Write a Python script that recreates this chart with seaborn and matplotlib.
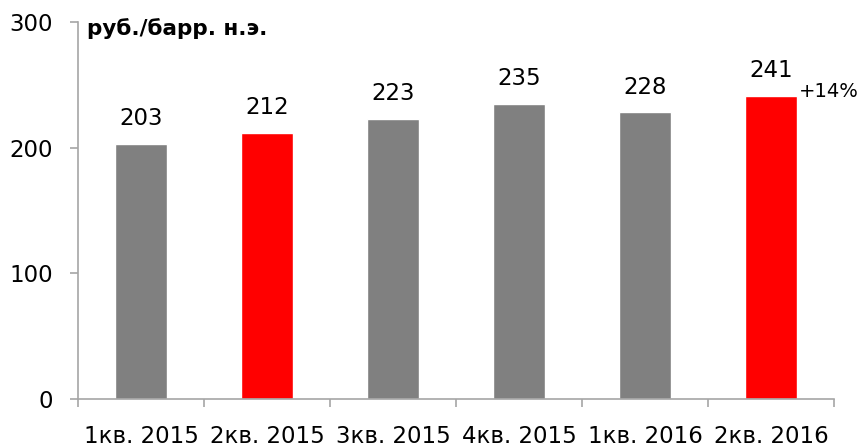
import matplotlib
matplotlib.use("Agg")
import matplotlib.pyplot as plt
import seaborn as sns
import pandas as pd
from matplotlib.ticker import FixedLocator

categories = ["1кв. 2015", "2кв. 2015", "3кв. 2015", "4кв. 2015", "1кв. 2016", "2кв. 2016"]
values = [203, 212, 223, 235, 228, 241]
bar_colors = ["#808080", "#FF0000", "#808080", "#808080", "#808080", "#FF0000"]
y_ticks = [0, 100, 200, 300]
unit_label = "руб./барр. н.э."
growth_label = "+14%"

sns.set_theme(style="white")
plt.rcParams['font.family'] = ['DejaVu Sans']
plt.rcParams['text.color'] = 'black'
plt.rcParams['xtick.labelcolor'] = 'black'
plt.rcParams['ytick.labelcolor'] = 'black'

df = pd.DataFrame({"cat": categories, "val": values})

fig = plt.figure(figsize=(8.62, 4.47), dpi=100)
ax = fig.add_axes([78/862, 48/447, (834-78)/862, (399-22)/447])

sns.barplot(data=df, x="cat", y="val", hue="cat", palette=bar_colors,
            legend=False, width=0.41, saturation=1, ax=ax)

ax.set_xlim(-0.5, len(categories) - 0.5)
ax.set_ylim(0, 300)
ax.set_yticks(y_ticks)
ax.set_xlabel("")
ax.set_ylabel("")

spine_col = "#A6A6A6"
for s in ["top", "right"]:
    ax.spines[s].set_visible(False)
for s in ["left", "bottom"]:
    ax.spines[s].set_color(spine_col)
    ax.spines[s].set_linewidth(1.2)

ax.tick_params(axis="y", which="major", length=6, width=1.2, color=spine_col,
               direction="out", labelsize=16.5, pad=12, left=True, labelcolor="black")
ax.tick_params(axis="x", which="major", length=0, labelsize=16.5, pad=19, labelcolor="black")
ax.xaxis.set_minor_locator(FixedLocator([i - 0.5 for i in range(len(categories) + 1)]))
ax.tick_params(axis="x", which="minor", length=6, width=1.2, color=spine_col,
               direction="out", bottom=True)

for i, v in enumerate(values):
    ax.text(i, v + 11, str(v), ha="center", va="bottom", fontsize=16.5, color="black")

ax.text(0.012, 295, unit_label, transform=ax.get_yaxis_transform(), ha="left", va="center",
        fontsize=15.5, fontweight="bold", color="black")
ax.text(5.22, 245, growth_label, ha="left", va="center", fontsize=14, color="black")

fig.savefig("out.png", dpi=100)
